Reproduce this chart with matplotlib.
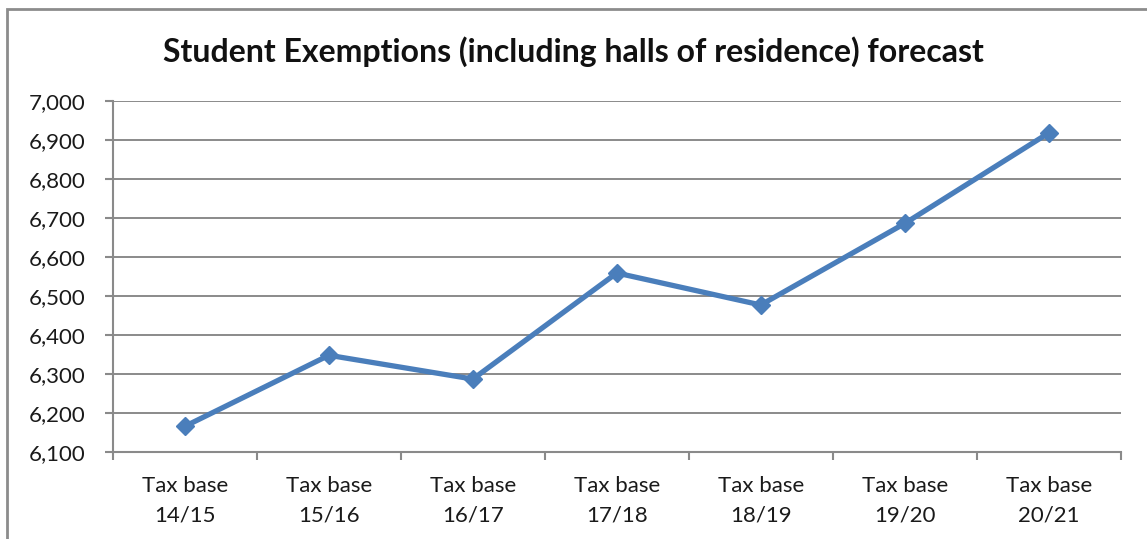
import matplotlib.pyplot as plt
import numpy as np
from matplotlib.patches import Rectangle

categories = ["Tax base\n14/15", "Tax base\n15/16", "Tax base\n16/17", "Tax base\n17/18",
              "Tax base\n18/19", "Tax base\n19/20", "Tax base\n20/21"]
exemptions = [6166, 6348, 6287, 6559, 6477, 6686, 6918]
y_ticks = list(range(6100, 7001, 100))

plt.rcParams["font.family"] = ["Lato", "DejaVu Sans"]

fig = plt.figure(figsize=(11.47, 5.39), dpi=100)
ax = fig.add_axes([0.0985, 0.1614, 0.8785, 0.6512])

# outer chart border (runs off right and bottom like the reference)
fig.patches.append(Rectangle((7 / 1147, -0.1), 1.2, 1 - 9 / 539 + 0.1, transform=fig.transFigure,
                             fill=False, edgecolor="#8c8c8c", linewidth=2))

x = np.arange(len(categories))
ax.plot(x, exemptions, color="#4a7ebb", linewidth=3.8, marker="D", markersize=9,
        markerfacecolor="#4a7ebb", markeredgecolor="#4a7ebb", zorder=3, clip_on=False)

ax.set_xlim(-0.5, len(categories) - 0.5)
ax.set_ylim(6100, 7000)
ax.set_yticks(y_ticks)
ax.set_yticklabels([f"{v:,}" for v in y_ticks], fontsize=16, color="#1a1a1a")
ax.yaxis.grid(True, color="#8a8a8a", linewidth=1.4)
ax.set_axisbelow(True)

ax.set_xticks(x)
ax.set_xticklabels(categories, fontsize=16, color="#1a1a1a", linespacing=1.6)
ax.tick_params(axis="x", which="major", length=0, pad=17)
ax.set_xticks(np.arange(-0.5, len(categories)), minor=True)
ax.tick_params(axis="x", which="minor", length=6, width=1.5, color="#8a8a8a", direction="out")
ax.tick_params(axis="y", length=6, width=1.5, color="#8a8a8a", pad=14)

for s in ["top", "right"]:
    ax.spines[s].set_visible(False)
for s in ["left", "bottom"]:
    ax.spines[s].set_color("#8a8a8a")
    ax.spines[s].set_linewidth(1.5)

fig.text(0.5, 0.905, "Student Exemptions (including halls of residence) forecast",
         ha="center", va="center", fontsize=23, fontweight="bold", color="#111111")

fig.savefig("out.png", dpi=100)
